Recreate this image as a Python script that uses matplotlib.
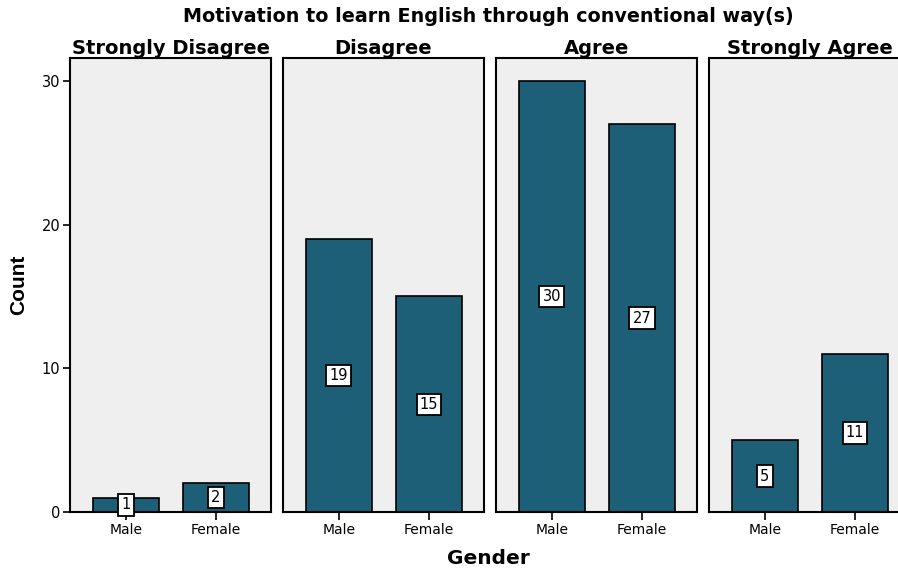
import matplotlib
matplotlib.use("Agg")
import matplotlib.pyplot as plt

responses = ["Strongly Disagree", "Disagree", "Agree", "Strongly Agree"]
genders = ["Male", "Female"]
male_counts = [1, 19, 30, 5]
female_counts = [2, 15, 27, 11]

bar_color = "#1d5f76"
panel_bg = "#efefef"

W, H = 898, 568
fig = plt.figure(figsize=(W / 100, H / 100), dpi=100)

# panel geometry in pixels
left0 = 70
pw = 201
gap = 12
ptop = 58
pbot = 512

box = dict(boxstyle="square,pad=0.22", fc="white", ec="black", lw=1.3)

axes = []
for i, resp in enumerate(responses):
    x0 = left0 + i * (pw + gap)
    ax = fig.add_axes([x0 / W, (H - pbot) / H, pw / W, (pbot - ptop) / H])
    ax.set_facecolor(panel_bg)
    vals = [male_counts[i], female_counts[i]]
    xs = range(len(genders))
    ax.bar(xs, vals, width=0.74, color=bar_color, edgecolor="black", linewidth=1.2, zorder=2)
    for x, v in zip(xs, vals):
        ax.text(x, v / 2, str(v), ha="center", va="center", fontsize=10.5,
                bbox=box, zorder=3)
    ax.set_xlim(-0.62, 1.61)
    ax.set_ylim(0, 31.6)
    ax.set_xticks(list(xs))
    ax.set_xticklabels(genders, fontsize=10)
    ax.tick_params(axis="x", length=6, width=1.2, pad=2)
    for s in ax.spines.values():
        s.set_linewidth(1.5)
    if i == 0:
        ax.set_yticks([0, 10, 20, 30])
        ax.tick_params(axis="y", length=5, width=1.2, labelsize=10.5, pad=2)
    else:
        ax.set_yticks([])
    ax.set_title(resp, fontsize=14, fontweight="bold", pad=1)
    axes.append(ax)

fig.text(488 / W, 1 - 17 / H, "Motivation to learn English through conventional way(s)",
         ha="center", va="center", fontsize=13.8, fontweight="bold")
fig.text(19 / W, 1 - 285 / H, "Count", rotation=90, ha="center", va="center",
         fontsize=15, fontweight="bold", family="Liberation Sans")
fig.text(488 / W, 1 - 559 / H, "Gender", ha="center", va="center",
         fontsize=14.5, fontweight="bold")

fig.savefig("out.png", dpi=100)
